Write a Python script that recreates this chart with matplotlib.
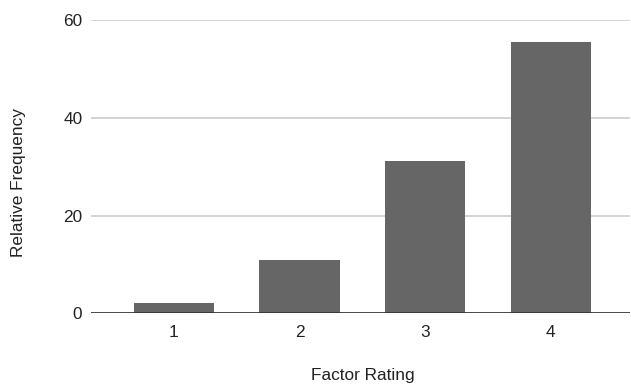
import matplotlib
matplotlib.use("Agg")
import matplotlib.pyplot as plt

# Relative frequency (%) of each factor rating
ratings = [1, 2, 3, 4]
rating_labels = ["1", "2", "3", "4"]
rel_freq = [2.2, 11.0, 31.1, 55.6]
y_ticks = [0, 20, 40, 60]

plt.rcParams["font.family"] = ["Liberation Sans", "DejaVu Sans"]
FS = 12.4

fig = plt.figure(figsize=(6.31, 3.86), dpi=100)
ax = fig.add_axes([0.1437, 0.1883, 0.8547, 0.7599])

ax.bar(ratings, rel_freq, width=0.64, color="#666666", zorder=3)

ax.set_xlim(0.337, 4.63)
ax.set_ylim(0, 60)
ax.set_xticks(ratings)
ax.set_xticklabels(rating_labels)
ax.set_yticks(y_ticks)

# gridlines, with a darker baseline at zero
ax.grid(axis="y", color="#cccccc", linewidth=1.2, zorder=0)
ax.axhline(0, color="#333333", linewidth=1.2, zorder=4)
for side in ["top", "right", "left", "bottom"]:
    ax.spines[side].set_visible(False)

ax.tick_params(axis="both", length=0, labelsize=FS, colors="#222222")
ax.tick_params(axis="y", pad=6)
ax.tick_params(axis="x", pad=8.3)

ax.set_xlabel("Factor Rating", fontsize=FS, color="#222222", va="center")
ax.set_ylabel("Relative Frequency", fontsize=FS, color="#222222", va="center")
ax.xaxis.set_label_coords(0.505, -0.2135)
ax.yaxis.set_label_coords(-0.1342, 0.446)

fig.savefig("out.png", dpi=100)
